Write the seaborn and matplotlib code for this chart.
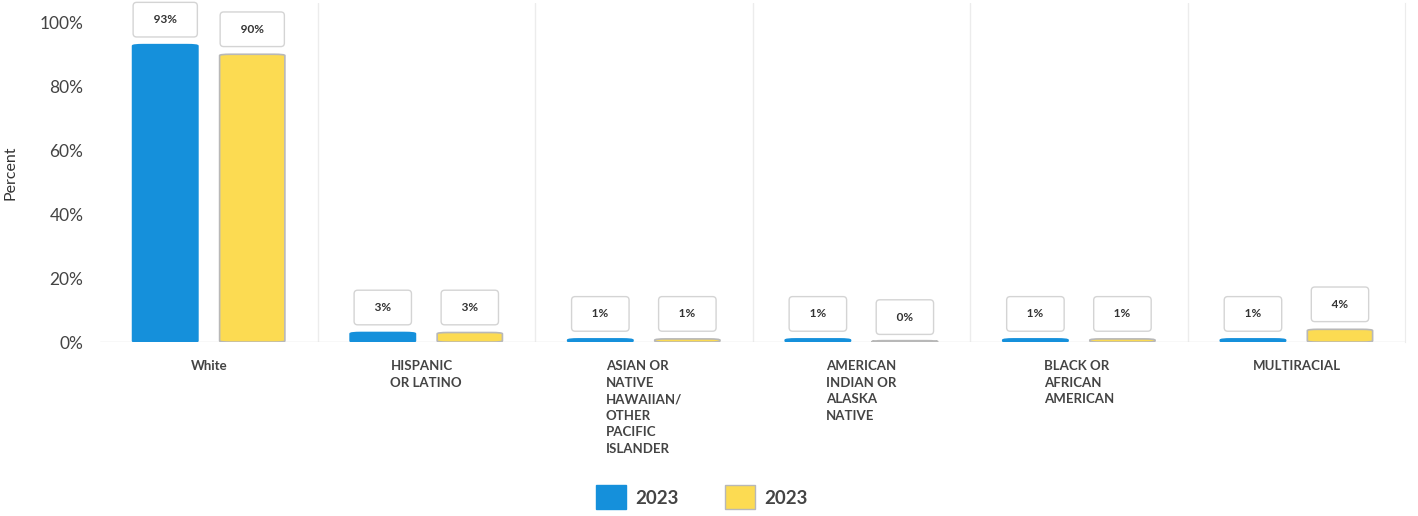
import pandas as pd
import numpy as np
import seaborn as sns
import matplotlib.pyplot as plt
from matplotlib.patches import Patch, FancyBboxPatch

# categories and values (percent)
categories = ["White", "HISPANIC\nOR LATINO",
              "ASIAN OR\nNATIVE\nHAWAIIAN/\nOTHER\nPACIFIC\nISLANDER",
              "AMERICAN\nINDIAN OR\nALASKA\nNATIVE",
              "BLACK OR\nAFRICAN\nAMERICAN", "MULTIRACIAL"]
series_a = [93, 3, 1, 1, 1, 1]
series_b = [90, 3, 1, 0, 1, 4]
legend_labels = ["2023", "2023"]

blue = "#1590db"
yellow = "#fcdb52"

df = pd.DataFrame({
    "Group": categories * 2,
    "Percent": series_a + series_b,
    "Series": ["A"] * len(categories) + ["B"] * len(categories),
})

sns.set_style("white")
plt.rcParams['font.family'] = ['Lato', 'DejaVu Sans']

fig = plt.figure(figsize=(14.18, 5.16), dpi=100)
ax = fig.add_axes([0.0705, 0.337, 0.9205, 0.657])

sns.barplot(data=df, x="Group", y="Percent", hue="Series", palette=[blue, yellow],
            gap=0.2, ax=ax, legend=False, saturation=1)

# swap plain rectangles for rounded bars + callout labels
bars = [p for p in ax.patches]
for i, p in enumerate(bars):
    x, w, h = p.get_x(), p.get_width(), p.get_height()
    if np.isnan(h):
        continue
    is_b = i >= len(categories)
    fc = p.get_facecolor()
    p.set_visible(False)
    hh = max(h, 0.45)
    rb = FancyBboxPatch((x + 0.01, 0), w - 0.02, hh, boxstyle="round,pad=0,rounding_size=0.05",
                        mutation_aspect=8, facecolor=fc,
                        edgecolor="#b8b8b8" if is_b else fc, linewidth=1.2)
    ax.add_patch(rb)
    ax.annotate(f"   {int(round(h))}%   ", (x + w / 2, h), xytext=(0, 18),
                textcoords="offset points", ha="center", va="center",
                fontsize=8.5, fontweight="bold", color="#333333",
                bbox=dict(boxstyle="round,pad=1.0,rounding_size=0.3", fc="white",
                          ec="#d4d4d4", lw=1),
                annotation_clip=False)

ax.set_ylim(0, 106)
ax.set_xlim(-0.5, len(categories) - 0.5)
ax.set_yticks([0, 20, 40, 60, 80, 100])
ax.set_yticklabels([f"{v}%" for v in [0, 20, 40, 60, 80, 100]], fontsize=12.5, color="#444444")
ax.set_ylabel("Percent", fontsize=11.5, color="#333333", labelpad=16)
ax.set_xlabel("")
ax.set_xticks(range(len(categories)))
ax.set_xticklabels(categories, fontsize=9.5, fontweight="bold", color="#444444",
                   va="top", multialignment="left", linespacing=1.45)
ax.tick_params(axis="x", length=0, pad=13)
ax.tick_params(axis="y", length=0, pad=12)

for b in np.arange(0.5, len(categories) - 0.5, 1):
    ax.axvline(b, color="#ececec", lw=1, zorder=0)
ax.axhline(0, color="#dddddd", lw=1, zorder=0)
for s in ax.spines.values():
    s.set_visible(False)
ax.spines["right"].set_visible(True)
ax.spines["right"].set_color("#ececec")

handles = [Patch(facecolor=blue, edgecolor=blue),
           Patch(facecolor=yellow, edgecolor="#b8b8b8")]
fig.legend(handles, legend_labels, loc="lower center", bbox_to_anchor=(0.495, -0.02),
           ncol=2, frameon=False, handlelength=1.6, handleheight=1.6,
           columnspacing=2.5, handletextpad=0.5, labelcolor="#444444",
           prop={"weight": "bold", "size": 13.5})

fig.savefig("out.png", dpi=100)
